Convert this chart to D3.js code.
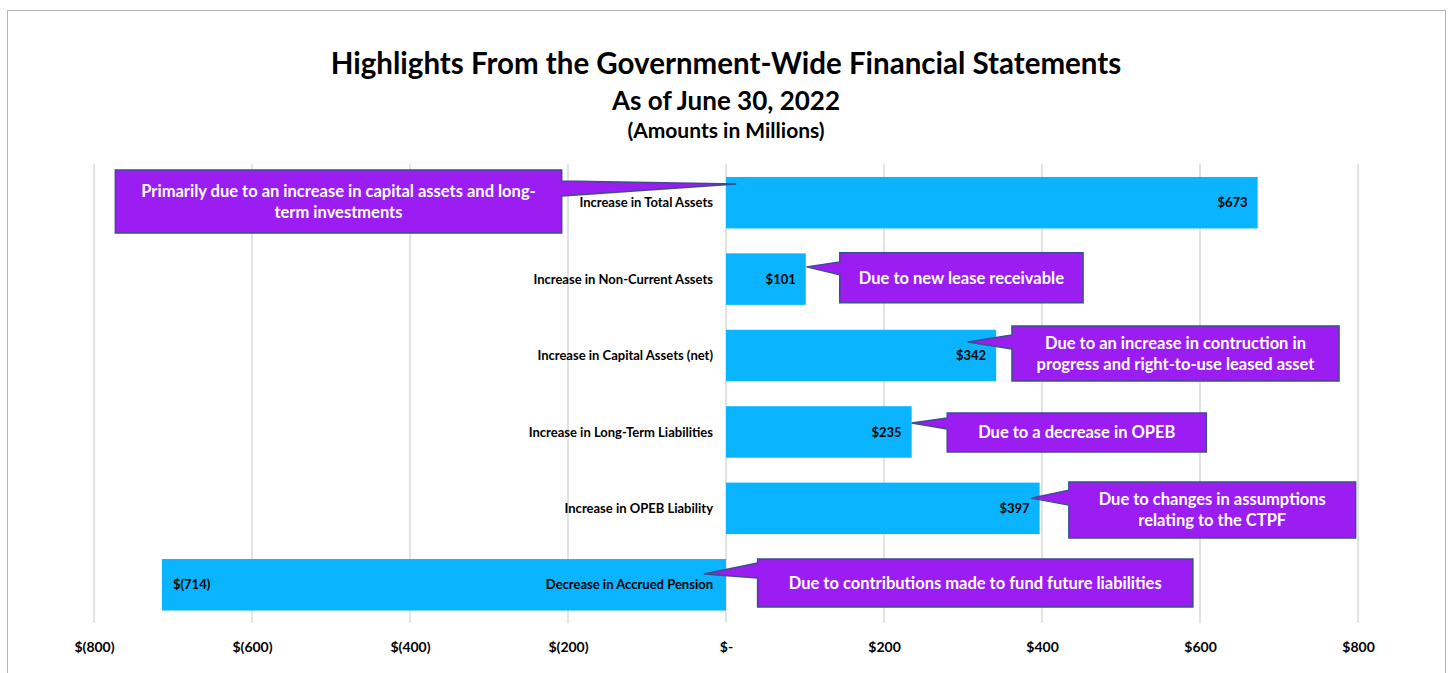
<!DOCTYPE html>
<html>
<head>
<meta charset="utf-8">
<script src="https://cdn.jsdelivr.net/npm/d3@7"></script>
<style>
  body { margin: 0; background: #fff; }
  svg { display: block; font-family: Lato, "Open Sans", sans-serif; }
</style>
</head>
<body>
<script>
// chart values
var categories = [
  "Increase in Total Assets",
  "Increase in Non-Current Assets",
  "Increase in Capital Assets (net)",
  "Increase in Long-Term Liabilities",
  "Increase in OPEB Liability",
  "Decrease in Accrued Pension"
];
var amounts = [673, 101, 342, 235, 397, -714];
var tickValues = [-800, -600, -400, -200, 0, 200, 400, 600, 800];
var notes = [
  ["Primarily due to an increase in capital assets and long-", "term investments"],
  ["Due to new lease receivable"],
  ["Due to an increase in contruction in", "progress and right-to-use leased asset"],
  ["Due to a decrease in OPEB"],
  ["Due to changes in assumptions", "relating to the CTPF"],
  ["Due to contributions made to fund future liabilities"]
];
var titleLines = [
  "Highlights From the Government-Wide Financial Statements",
  "As of June 30, 2022",
  "(Amounts in Millions)"
];

// callout placement (x in axis units, y in px from top of bar)
var calloutLayout = [
  { x0: -773, x1: -208, top: -7, bottom: 56, tipX: 13, tipY: 7, b0: 4, b1: 19 },
  { x0: 144, x1: 452, top: -0.5, bottom: 49.5, tipX: 102, tipY: 13.5, b0: 8.5, b1: 21.5 },
  { x0: 362, x1: 776, top: -3.8, bottom: 51.2, tipX: 306, tipY: 12.2, b0: 5.2, b1: 19.2 },
  { x0: 280, x1: 608, top: 6.8, bottom: 45.8, tipX: 235, tipY: 16.8, b0: 11.8, b1: 22.8 },
  { x0: 434, x1: 797, top: -0.5, bottom: 55.5, tipX: 386, tipY: 15.5, b0: 7.5, b1: 22.5 },
  { x0: 40, x1: 591, top: 0, bottom: 48, tipX: -28, tipY: 15, b0: 4, b1: 19 }
];

var width = 1448, height = 673;
var rows = categories.map((c, i) => ({ name: c, value: amounts[i], note: notes[i], lay: calloutLayout[i] }));

var svg = d3.select("body").append("svg").attr("width", width).attr("height", height);

svg.append("rect")
  .attr("x", 7.5).attr("y", 10.5)
  .attr("width", 1438).attr("height", 700)
  .attr("fill", "#fff").attr("stroke", "#b4b4b4");

var x = d3.scaleLinear().domain([-800, 800]).range([94, 1358]);
var y = d3.scaleBand().domain(categories).range([164.5, 623]).paddingInner(0.326).paddingOuter(0.163);

// title
var titleSizes = [29.5, 26, 21];
var titleY = [74, 110, 138];
svg.append("g").selectAll("text").data(titleLines).join("text")
  .attr("x", 726)
  .attr("y", (d, i) => titleY[i])
  .attr("text-anchor", "middle")
  .attr("font-weight", "bold")
  .attr("font-size", (d, i) => titleSizes[i])
  .attr("fill", "#000")
  .text((d) => d);

// grid
svg.append("g").selectAll("line").data(tickValues).join("line")
  .attr("x1", (d) => x(d)).attr("x2", (d) => x(d))
  .attr("y1", 164).attr("y2", 623)
  .attr("stroke", "#d9d9d9").attr("stroke-width", 1.5);

// axis
function money(v) {
  if (v === 0) return "$-";
  return v < 0 ? "$(" + Math.abs(v) + ")" : "$" + v;
}
var axis = svg.append("g")
  .attr("transform", "translate(0,630)")
  .call(d3.axisBottom(x).tickValues(tickValues).tickFormat(money).tickSize(0).tickPadding(12));
axis.select(".domain").remove();
axis.selectAll("text")
  .attr("font-family", "Lato, sans-serif")
  .attr("font-size", 14)
  .attr("font-weight", "bold")
  .attr("fill", "#000");

// bars
svg.append("g").selectAll("rect").data(rows).join("rect")
  .attr("x", (d) => x(Math.min(0, d.value)))
  .attr("y", (d) => y(d.name))
  .attr("width", (d) => Math.abs(x(d.value) - x(0)))
  .attr("height", y.bandwidth())
  .attr("fill", "#0bb4ff");

// category labels
svg.append("g").selectAll("text").data(rows).join("text")
  .attr("x", x(0) - 13)
  .attr("y", (d) => y(d.name) + y.bandwidth() / 2)
  .attr("dy", "0.35em")
  .attr("text-anchor", "end")
  .attr("font-size", 13)
  .attr("font-weight", "bold")
  .attr("fill", "#000")
  .text((d) => d.name);

// value labels
svg.append("g").selectAll("text").data(rows).join("text")
  .attr("x", (d) => (d.value < 0 ? x(d.value) + 11 : x(d.value) - 10))
  .attr("y", (d) => y(d.name) + y.bandwidth() / 2)
  .attr("dy", "0.35em")
  .attr("text-anchor", (d) => (d.value < 0 ? "start" : "end"))
  .attr("font-size", 13)
  .attr("font-weight", "bold")
  .attr("fill", "#000")
  .text((d) => money(d.value));

// callouts
var callout = svg.append("g").selectAll("g").data(rows).join("g");

callout.append("path")
  .attr("fill", "#9b1df2")
  .attr("stroke", "#3b4f8c")
  .attr("stroke-width", 1.5)
  .attr("stroke-linejoin", "miter")
  .attr("d", (d) => {
    var L = d.lay, b = y(d.name);
    var x0 = x(L.x0), x1 = x(L.x1), t = b + L.top, btm = b + L.bottom;
    var tx = x(L.tipX), ty = b + L.tipY;
    var p = d3.path();
    if (tx > x1) {
      // pointer on right side
      p.moveTo(x0, t); p.lineTo(x1, t); p.lineTo(x1, b + L.b0);
      p.lineTo(tx, ty); p.lineTo(x1, b + L.b1); p.lineTo(x1, btm); p.lineTo(x0, btm);
    } else {
      p.moveTo(x0, t); p.lineTo(x1, t); p.lineTo(x1, btm); p.lineTo(x0, btm);
      p.lineTo(x0, b + L.b1); p.lineTo(tx, ty); p.lineTo(x0, b + L.b0);
    }
    p.closePath();
    return p.toString();
  });

callout.each(function (d) {
  var L = d.lay, b = y(d.name);
  var cx = (x(L.x0) + x(L.x1)) / 2;
  var cy = b + (L.top + L.bottom) / 2;
  var n = d.note.length;
  d3.select(this).selectAll("text").data(d.note).join("text")
    .attr("x", cx)
    .attr("y", (t, i) => cy + (i - (n - 1) / 2) * 21)
    .attr("dy", "0.35em")
    .attr("text-anchor", "middle")
    .attr("font-size", 16.5)
    .attr("font-weight", "bold")
    .attr("fill", "#fff")
    .text((t) => t);
});
</script>
</body>
</html>
